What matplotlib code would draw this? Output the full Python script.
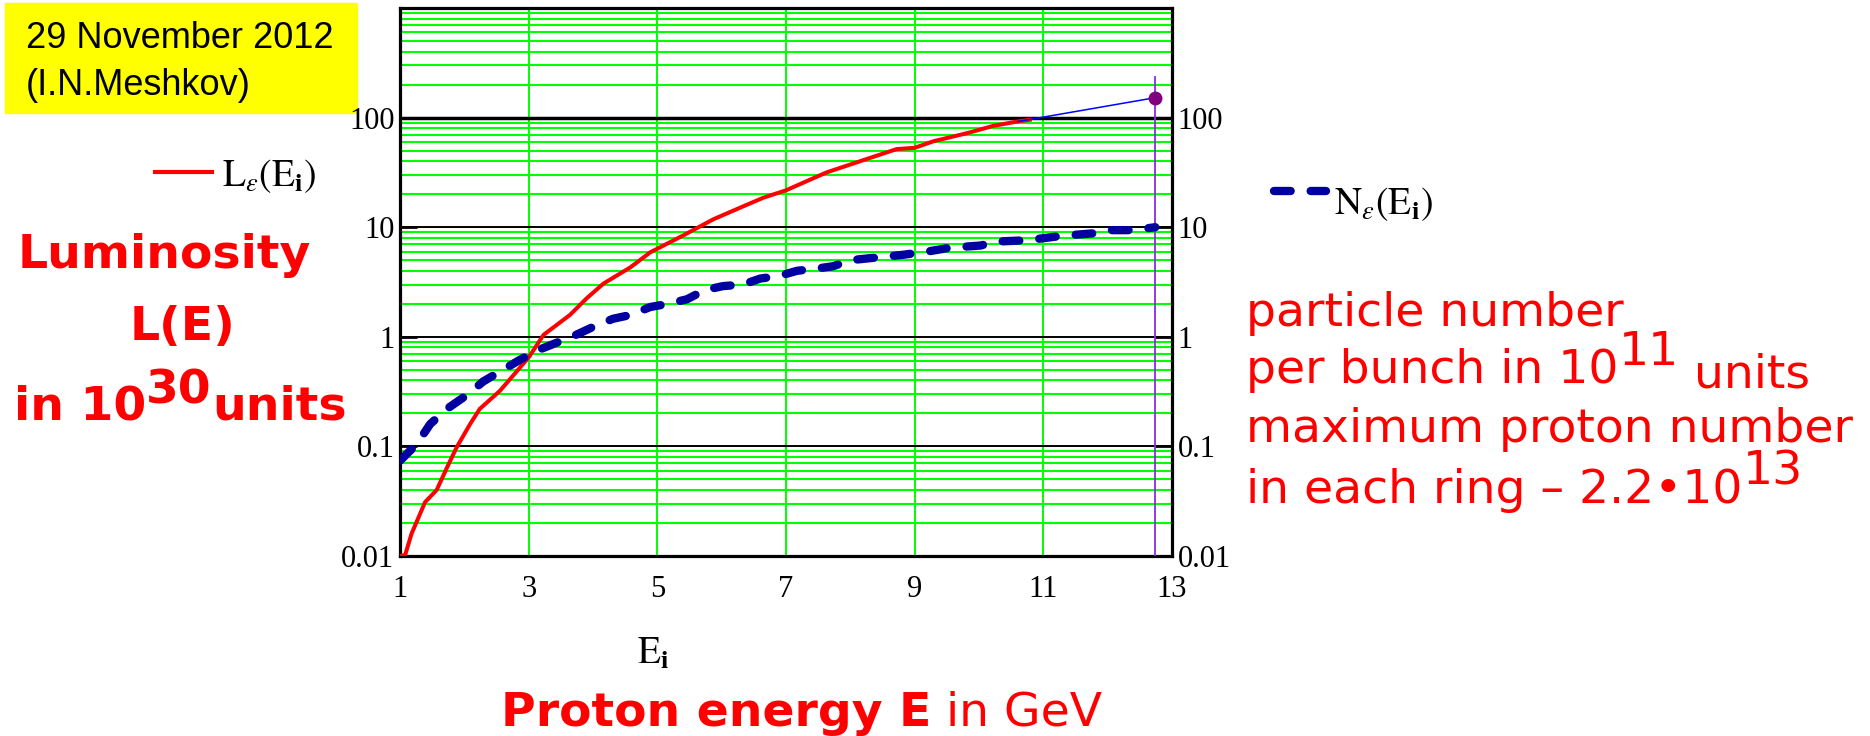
import numpy as np
import matplotlib
matplotlib.use('Agg')
import matplotlib.pyplot as plt
from matplotlib.patches import Rectangle
from matplotlib.lines import Line2D
from matplotlib.ticker import LogLocator, NullFormatter

W, H = 1870, 736

# luminosity L(E), 10^30 units (red curve)
E_lum = [1.0, 1.08, 1.18, 1.39, 1.57, 1.73, 1.88, 2.09, 2.24, 2.55, 2.81, 3.01, 3.23,
         3.64, 3.90, 4.16, 4.58, 4.89, 5.40, 5.87, 6.29, 6.65, 7.0, 7.27, 7.63, 8.25,
         8.72, 9.0, 9.29, 9.81, 10.22, 10.59, 10.79]
L_lum = [0.01, 0.0102, 0.016, 0.031, 0.040, 0.064, 0.098, 0.16, 0.22, 0.32, 0.48, 0.66, 1.04,
         1.58, 2.24, 3.05, 4.3, 5.9, 8.4, 11.8, 15.1, 18.6, 21.7, 25.5, 31.6, 41.8,
         51.6, 53.0, 60.8, 72.0, 84.0, 92.0, 95.5]

# thin continuation and the cursor point
E_ext = [10.6, 12.74]
L_ext = [92.0, 152.0]
E_cursor = 12.74
L_cursor = 152.0
cursor_top = 237.0

# particle number per bunch N(E), 10^11 units (dashed curve)
E_num = [1.0, 1.26, 1.47, 1.73, 2.06, 2.29, 2.6, 2.87, 3.18, 3.49, 3.75, 4.0, 4.31, 4.58,
         4.89, 5.17, 5.46, 5.74, 6.02, 6.33, 6.6, 6.9, 7.17, 7.48, 7.73, 8.0, 8.42, 8.82,
         9.2, 9.55, 10.02, 10.28, 10.75, 11.26, 11.78, 12.0, 12.4, 12.74]
N_num = [0.074, 0.105, 0.16, 0.22, 0.30, 0.39, 0.50, 0.62, 0.77, 0.91, 1.05, 1.23, 1.46, 1.58,
         1.87, 2.0, 2.2, 2.67, 2.9, 3.0, 3.4, 3.6, 4.0, 4.2, 4.4, 5.0, 5.3, 5.6,
         6.0, 6.5, 6.8, 7.4, 7.6, 8.3, 8.8, 9.4, 9.4, 10.0]

x_ticks = [1, 3, 5, 7, 9, 11, 13]
y_ticks = [0.01, 0.1, 1, 10, 100]
y_labels = ['0.01', '0.1', '1', '10', '100']

plt.rcParams['font.family'] = 'Liberation Serif'
plt.rcParams['mathtext.fontset'] = 'stix'

fig = plt.figure(figsize=(W / 100, H / 100), dpi=100)


def fx(px):
    return px / W


def fy(py):
    return 1 - py / H


ax = fig.add_axes([fx(400), fy(556), 772 / W, 548 / H])
ax.set_yscale('log')
ax.set_xlim(1, 13)
ax.set_ylim(0.01, 1000)
ax.set_xticks(x_ticks)
ax.set_yticks(y_ticks, y_labels)
ax.yaxis.set_minor_locator(LogLocator(base=10, subs=np.arange(2, 10)))
ax.yaxis.set_minor_formatter(NullFormatter())

ax.set_axisbelow(True)
ax.grid(which='minor', axis='y', color='#00ff00', lw=1.5)
ax.grid(which='major', axis='y', color='black', lw=1.4)
ax.grid(which='major', axis='x', color='#00ff00', lw=1.4)
ax.axhline(100, color='black', lw=2.5, zorder=1)

ax.tick_params(axis='y', which='major', direction='in', length=12, width=2,
               left=True, right=True, labelleft=True, labelright=True,
               labelsize=22, pad=4)
ax.tick_params(axis='y', which='minor', length=0)
ax.tick_params(axis='x', length=0, pad=14, labelsize=22)
for s in ax.spines.values():
    s.set_linewidth(2.3)

ax.plot(E_lum, L_lum, color='red', lw=2.9, solid_joinstyle='round', zorder=3)
ax.plot(E_ext, L_ext, color='blue', lw=1.1, zorder=3)
ax.plot(E_num, N_num, color='#0000a0', lw=6, dashes=(2.0, 2.4),
        dash_capstyle='round', zorder=4)
ax.plot([E_cursor, E_cursor], [0.01, cursor_top], color='#8a2be2', lw=1.3, zorder=3)
ax.plot([E_cursor], [L_cursor], 'o', color='#800080', ms=9, zorder=5)

# date box
fig.add_artist(Rectangle((fx(5), fy(113)), 352 / W, 110 / H, transform=fig.transFigure,
                         color='#ffff00', zorder=0))
fig.text(fx(26), fy(48), '29 November 2012', fontfamily='Liberation Sans', fontsize=26,
         va='baseline')
fig.text(fx(26), fy(95), '(I.N.Meshkov)', fontfamily='Liberation Sans', fontsize=26,
         va='baseline')

# legend entries
fig.add_artist(Line2D([fx(155), fx(212)], [fy(172), fy(172)], color='red', lw=3))
fig.text(fx(222), fy(176), r'$\mathrm{L}_{\varepsilon}\left(\mathrm{E}_{\mathbf{i}}\right)$',
         fontsize=27, va='center')
fig.add_artist(Line2D([fx(1274), fx(1326)], [fy(191), fy(191)], color='#0000a0', lw=6,
                      dashes=(2.0, 2.4), dash_capstyle='round'))
fig.text(fx(1334), fy(204), r'$\mathrm{N}_{\varepsilon}\left(\mathrm{E}_{\mathbf{i}}\right)$',
         fontsize=27, va='center')

fig.text(fx(653), fy(654), r'$\mathrm{E}_{\mathbf{i}}$', fontsize=27, ha='center', va='center')


def chain(prev, s, dx=0, dy=0, **kw):
    return ax.annotate(s, xy=(1, 0), xycoords=prev, xytext=(dx, dy),
                       textcoords='offset points', va='bottom', ha='left',
                       annotation_clip=False, **kw)


red = '#ff0000'
bold = dict(fontfamily='DejaVu Sans', fontweight='bold', fontsize=34, color=red)
reg = dict(fontfamily='DejaVu Sans', fontsize=34, color=red)

fig.text(fx(164), fy(268), 'Luminosity', ha='center', va='baseline', **bold)
fig.text(fx(183), fy(340), 'L(E)', ha='center', va='baseline', **bold)
t = fig.text(fx(14), fy(420), 'in 10', va='baseline', **bold)
t = chain(t, '30', 0, 12, **bold)
chain(t, 'units', 0, -12, **bold)

t = fig.text(fx(501), fy(726), 'Proton energy E', va='baseline', **bold)
chain(t, ' in GeV', **reg)

rs = dict(fontfamily='DejaVu Sans', fontsize=34, color=red)
fig.text(fx(1246), fy(326), 'particle number', va='baseline', **rs)
t = fig.text(fx(1246), fy(383), 'per bunch in 10', va='baseline', **rs)
t = chain(t, '11', 0, 13, **rs)
chain(t, ' units', 0, -16, **rs)
fig.text(fx(1246), fy(442), 'maximum proton number', va='baseline', **rs)
t = fig.text(fx(1246), fy(503), 'in each ring \u2013 2.2\u202210', va='baseline', **rs)
chain(t, '13', 0, 13, **rs)

fig.savefig('out.png', dpi=100)
